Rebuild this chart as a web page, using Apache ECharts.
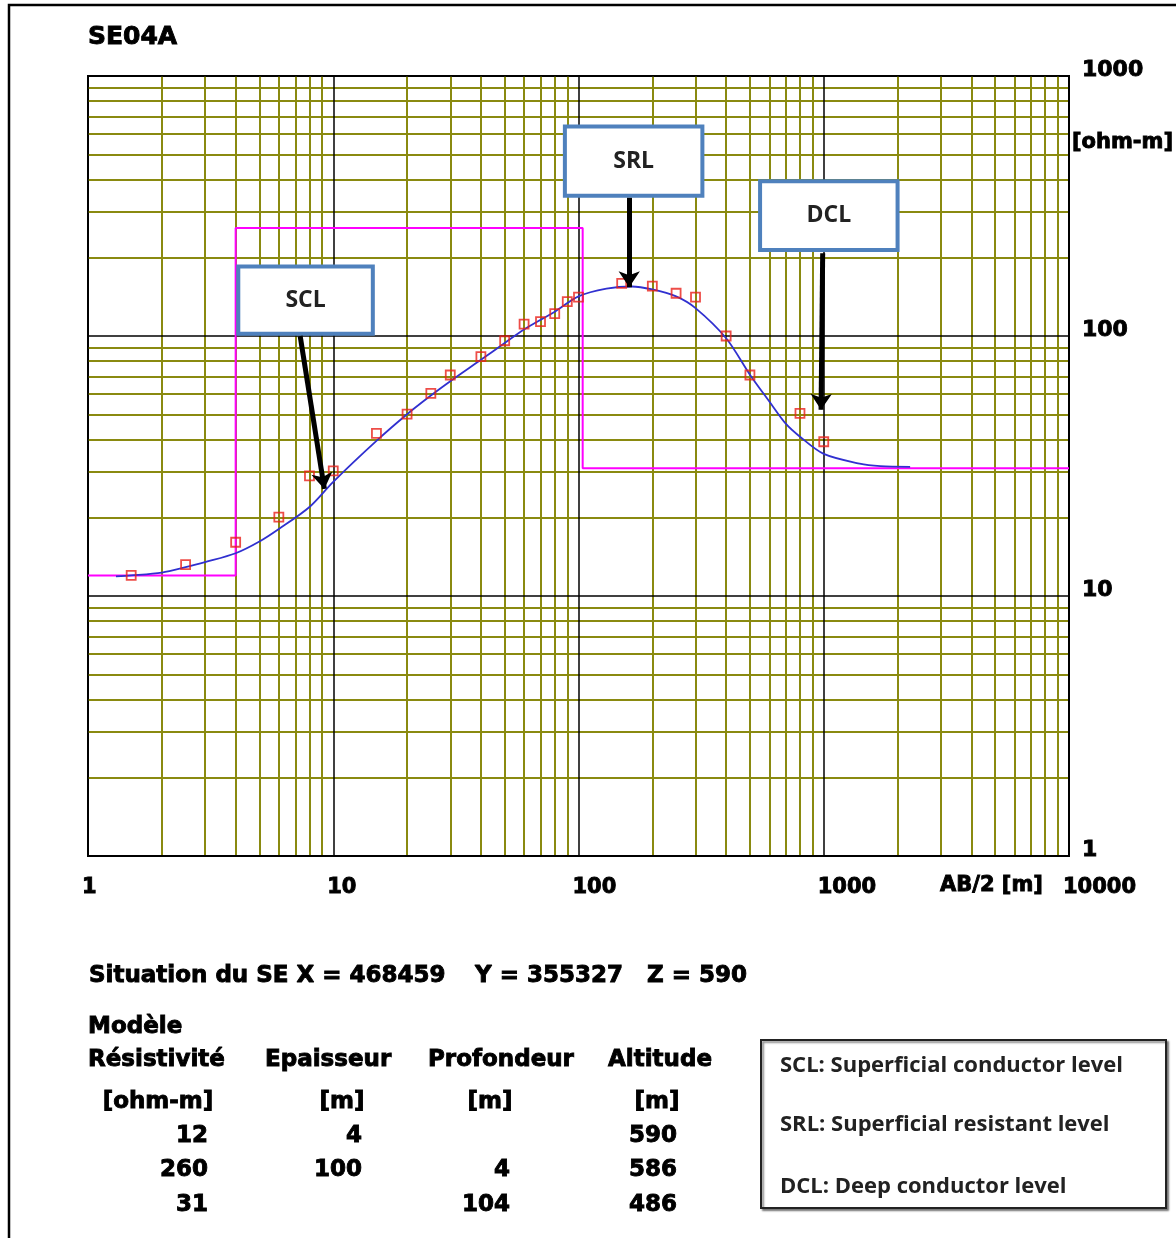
<!DOCTYPE html>
<html><head><meta charset="utf-8">
<script src="https://cdn.jsdelivr.net/npm/echarts@6/dist/echarts.min.js"></script>
<style>html,body{margin:0;padding:0;background:#fff}#c{width:1176px;height:1238px}</style>
</head><body><div id="c"></div>
<script>
// ---- measured apparent resistivity (AB/2 [m], rho [ohm-m]) ----
const abHalf = [1.5, 2.5, 4, 6, 8, 10, 15, 20, 25, 30, 40, 50, 60, 70, 80, 90, 100, 150, 200, 250, 300, 400, 500, 800, 1000];
const rhoApparent = [12.0, 13.2, 16.1, 20.1, 29.0, 30.3, 42.2, 50.1, 60.2, 70.8, 83.3, 95.9, 111, 113.5, 122, 135.5, 141, 159.5, 155.6, 146, 141, 100, 70.8, 50.4, 39.2];
// ---- computed (model) curve ----
const fitAB = [1.3, 1.5, 2, 2.5, 3, 4, 5, 6, 8, 10, 15, 20, 25, 30, 40, 50, 60, 80, 100, 130, 165, 200, 250, 300, 400, 500, 600, 700, 800, 1000, 1400, 1700, 2250];
const fitRho = [11.9, 12.0, 12.3, 12.9, 13.5, 14.6, 16.2, 18.1, 22.0, 27.5, 39.5, 50, 59, 67, 81, 94, 106, 124, 142, 152, 155, 151, 142, 128, 98, 71, 56, 46, 41, 35.2, 32.3, 31.6, 31.4];
// ---- layered model ----
const layerRho = [12, 260, 31];
const layerThick = [4, 100];
const layerDepth = ['', 4, 104];
const layerAlt = [590, 586, 486];
// ---- axes ----
const xTickLabels = ['1', '10', '100', '1000', '10000'];
const yTickLabels = ['1', '10', '100', '1000'];
const xRange = [1, 10000];
const yRange = [1, 1000];
// ---- callouts (data coordinates) ----
const calloutNames = ['SCL', 'SRL', 'DCL'];
const calloutBoxes = [[[4.1, 185], [14.5, 102]], [[88, 640], [320, 346]], [[550, 394], [2000, 214]]];
const calloutArrows = [[[7.33, 100], [9.2, 25.8]], [[161, 340], [161, 154]], [[990, 208], [975, 52]]];
const legendLines = ['SCL: Superficial conductor level', 'SRL: Superficial resistant level', 'DCL: Deep conductor level'];

// step model line
const bounds = [xRange[0]];
let acc = 0;
layerThick.forEach(t => { acc += t; bounds.push(acc); });
bounds.push(xRange[1]);
const modelLine = [];
layerRho.forEach((r, i) => { modelLine.push([bounds[i], r]); modelLine.push([bounds[i + 1], r]); });

// minor grid (2..9 of each decade)
const minorX = [], minorY = [];
for (let d = 1; d < xRange[1]; d *= 10) for (let m = 2; m <= 9; m++) minorX.push({ xAxis: d * m });
for (let d = 1; d < yRange[1]; d *= 10) for (let m = 2; m <= 9; m++) minorY.push({ yAxis: d * m });

const chart = echarts.init(document.getElementById('c'), null, { renderer: 'canvas' });
const bold = 'DejaVu Sans';
const T = (x, y, text, size, align, fam, weight, heavy, fill) => ({
  type: 'text', x: x, y: y, z: 100,
  style: { text: text, fill: fill || '#000', font: (weight || 'bold') + ' ' + size + 'px "' + (fam || bold) + '"', align: align || 'left', verticalAlign: 'middle',
    stroke: heavy === false ? null : '#000', lineWidth: heavy === false ? 0 : 0.9 }
});

const graphics = [];
graphics.push({ type: 'polyline', z: 100, shape: { points: [[9, 1240], [9, 5], [1180, 5]] }, style: { stroke: '#000', lineWidth: 2.5, fill: null } });
graphics.push(T(88, 37, 'SE04A', 25));
graphics.push(T(1072, 143, '[ohm-m]', 21));
graphics.push(T(940, 886, 'AB/2 [m]', 21));
graphics.push(T(89, 976, 'Situation du SE X = 468459', 23));
graphics.push(T(475, 976, 'Y = 355327', 23));
graphics.push(T(647, 976, 'Z = 590', 23));
graphics.push(T(88, 1027, 'Modèle', 23));
const headers = ['Résistivité', 'Epaisseur', 'Profondeur', 'Altitude'];
const headerX = [88, 265, 428, 608];
headers.forEach((h, i) => graphics.push(T(headerX[i], 1060, h, 23)));
const units = ['[ohm-m]', '[m]', '[m]', '[m]'];
const unitX = [158, 342, 490, 657];
units.forEach((u, i) => graphics.push(T(unitX[i], 1102, u, 23, 'center')));
const colRight = [208, 362, 510, 677];
const rowY = [1136, 1170, 1205];
rowY.forEach((y, r) => {
  const cells = [layerRho[r], layerThick[r] !== undefined ? layerThick[r] : '', layerDepth[r], layerAlt[r]];
  cells.forEach((c, k) => { if (c !== '' && c !== undefined) graphics.push(T(colRight[k], y, String(c), 23, 'right')); });
});
graphics.push({ type: 'rect', z: 99, shape: { x: 761, y: 1040, width: 405, height: 168 },
  style: { fill: '#fff', stroke: '#222', lineWidth: 2, shadowBlur: 2, shadowOffsetX: 2, shadowOffsetY: 2, shadowColor: 'rgba(0,0,0,0.45)' } });
const legendY = [1066, 1125, 1187];
legendLines.forEach((t, i) => graphics.push(T(780, legendY[i], t, 22, 'left', 'Open Sans', 'bold', false, '#222')));

const labelFmt = (arr) => (v) => { const k = Math.round(Math.log10(v)); return arr[k] !== undefined ? arr[k] : ''; };

chart.setOption({
  animation: false,
  backgroundColor: '#fff',
  grid: { left: 88, right: 107, top: 76, bottom: 382, show: true, borderColor: '#000', borderWidth: 2 },
  xAxis: {
    type: 'log', logBase: 10, min: xRange[0], max: xRange[1], splitNumber: 4, z: 3,
    axisLine: { show: true, onZero: false, lineStyle: { color: '#000', width: 2 } },
    axisTick: { show: false },
    splitLine: { show: true, lineStyle: { color: '#000', width: 1.5 } },
    axisLabel: { showMinLabel: true, showMaxLabel: true, margin: 21, align: 'left', color: '#000', padding: [0, 0, 0, -6],
      textBorderColor: '#000', textBorderWidth: 0.9,
      fontFamily: bold, fontWeight: 'bold', fontSize: 21, formatter: labelFmt(xTickLabels) }
  },
  yAxis: {
    type: 'log', logBase: 10, min: yRange[0], max: yRange[1], splitNumber: 3, position: 'right', z: 3,
    axisLine: { show: true, lineStyle: { color: '#000', width: 2 } },
    axisTick: { show: false },
    splitLine: { show: true, lineStyle: { color: '#000', width: 1.5 } },
    axisLabel: { showMinLabel: true, showMaxLabel: true, margin: 13, align: 'left', verticalAlign: 'bottom', lineHeight: 12,
      textBorderColor: '#000', textBorderWidth: 0.9,
      color: '#000', fontFamily: bold, fontWeight: 'bold', fontSize: 22, formatter: labelFmt(yTickLabels) }
  },
  series: [
    { type: 'line', data: [], z: 1, silent: true,
      markLine: { silent: true, z: 1, symbol: ['none', 'none'], animation: false, label: { show: false },
        lineStyle: { color: '#8a8a10', width: 2, type: 'solid' }, emphasis: { disabled: true },
        data: minorX.concat(minorY) } },
    { type: 'line', name: 'model', data: modelLine, z: 5, symbol: 'none', silent: true,
      lineStyle: { color: '#ff00ff', width: 2 } },
    { type: 'line', name: 'calc', data: fitAB.map((x, i) => [x, fitRho[i]]), z: 6, symbol: 'none', smooth: 0.3, silent: true,
      lineStyle: { color: '#3030d0', width: 1.8 } },
    { type: 'scatter', name: 'obs', data: abHalf.map((x, i) => [x, rhoApparent[i]]), z: 7, symbol: 'rect', symbolSize: 9, silent: true,
      itemStyle: { color: 'rgba(255,255,255,0)', borderColor: '#e8201a', borderWidth: 1.8 } },
    { type: 'line', data: [], z: 8, silent: true,
      markArea: { silent: true, z: 10,
        itemStyle: { color: '#fff', opacity: 1, borderColor: '#4f81bd', borderWidth: 4 },
        label: { show: true, position: 'inside', color: '#222', fontFamily: 'Open Sans', fontWeight: 'bold', fontSize: 23 },
        data: calloutBoxes.map((b, i) => [{ name: calloutNames[i], coord: b[0] }, { coord: b[1] }]) },
      markLine: { silent: true, z: 11, symbol: ['none', 'arrow'], symbolSize: 16, label: { show: false },
        lineStyle: { color: '#000', width: 5, type: 'solid' },
        data: calloutArrows.map(a => [{ coord: a[0] }, { coord: a[1] }]) } }
  ],
  graphic: graphics
});
</script></body></html>
